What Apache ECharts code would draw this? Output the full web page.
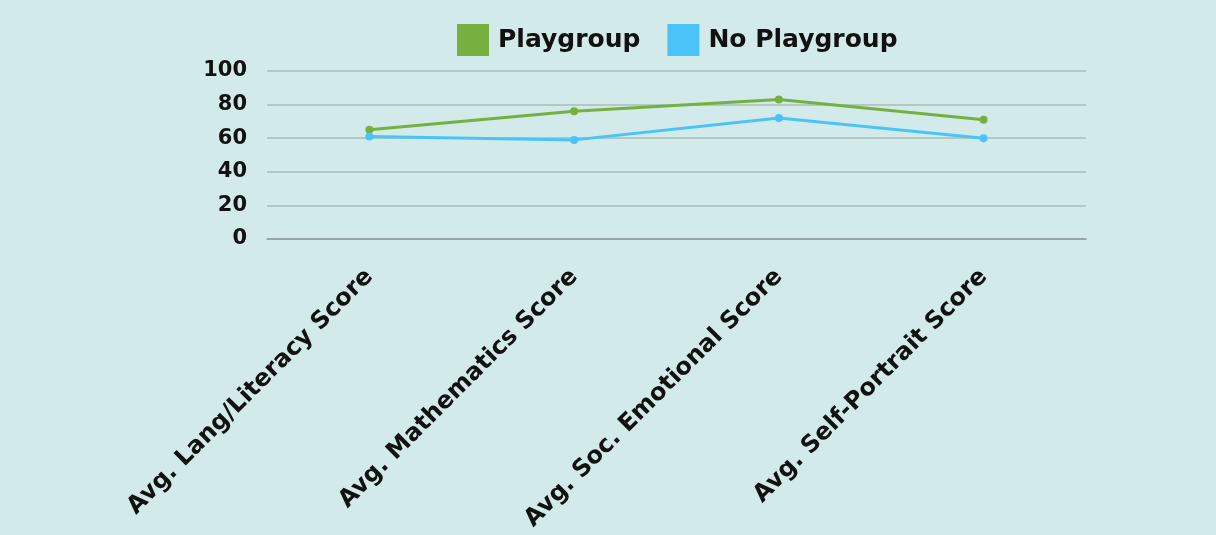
<!DOCTYPE html>
<html><head><meta charset="utf-8">
<script src="https://cdn.jsdelivr.net/npm/echarts@6/dist/echarts.min.js"></script>
<style>html,body{margin:0;padding:0;background:#d2ebea;}#c{width:1216px;height:535px;}</style>
</head><body><div id="c"></div>
<script>
const categories = ["Avg. Lang/Literacy Score","Avg. Mathematics Score","Avg. Soc. Emotional Score","Avg. Self-Portrait Score"];
const playgroup = [65, 76, 83, 71];
const noPlaygroup = [61, 59, 72, 60];
const seriesNames = ["Playgroup","No Playgroup"];
const chart = echarts.init(document.getElementById('c'));
const font = 'DejaVu Sans';
chart.setOption({
  backgroundColor: '#d2ebea',
  animation: false,
  legend: {
    top: 19, left: 452, itemWidth: 32, itemHeight: 32, itemGap: 27,
    icon: 'rect',
    textStyle: {fontFamily: font, fontWeight: 'bold', fontSize: 25, color: '#111', padding: [0, 0, 0, 4]},
    data: seriesNames
  },
  grid: {left: 267, right: 130, top: 71, bottom: 296},
  xAxis: {
    type: 'category', data: categories, boundaryGap: true,
    axisLine: {lineStyle: {color: '#8c9c99', width: 1.5}},
    axisTick: {show: false},
    axisLabel: {rotate: 45, interval: 0, margin: 34, fontFamily: font, fontWeight: 'bold', fontSize: 24, color: '#111'}
  },
  yAxis: {
    type: 'value', min: 0, max: 100, interval: 20,
    axisLine: {show: false}, axisTick: {show: false},
    splitLine: {lineStyle: {color: '#a8bbb8', width: 1.5}},
    axisLabel: {margin: 20, fontFamily: font, fontWeight: 'bold', fontSize: 21, color: '#111', padding: [4, 0, 0, 0]}
  },
  series: [
    {name: seriesNames[0], type: 'line', data: playgroup, color: '#76b041', symbol: 'circle', symbolSize: 8, lineStyle: {width: 3}},
    {name: seriesNames[1], type: 'line', data: noPlaygroup, color: '#4ac4f8', symbol: 'circle', symbolSize: 8, lineStyle: {width: 3}}
  ]
});
</script></body></html>
